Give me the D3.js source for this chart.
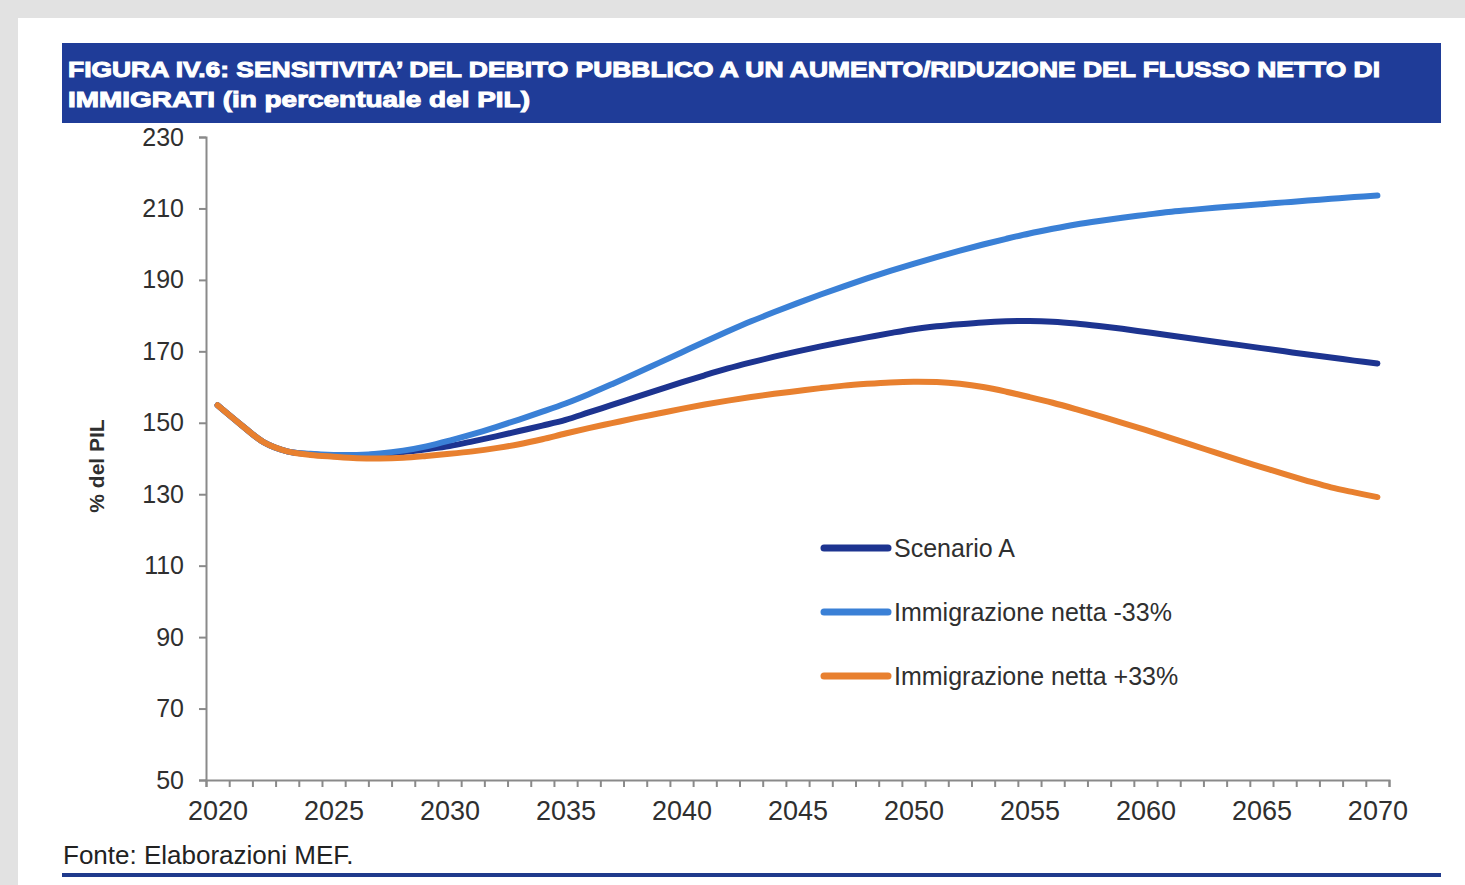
<!DOCTYPE html>
<html>
<head>
<meta charset="utf-8">
<script src="https://cdn.jsdelivr.net/npm/d3@7"></script>
<style>
  html, body { margin: 0; padding: 0; background: #e2e2e2; }
  svg { display: block; }
</style>
</head>
<body>
<svg id="chart" width="1465" height="885"></svg>
<script>
// ---- data ----
const years = d3.range(2020, 2071);
const scenarioA = [
  154.9, 149.5, 144.5, 142.0, 141.2, 140.9, 140.9, 141.2, 141.8, 142.6,
  143.5, 144.8, 146.2, 147.7, 149.2, 150.8, 152.9, 155.0, 157.1, 159.2,
  161.3, 163.3, 165.2, 166.9, 168.5, 170.0, 171.4, 172.7, 173.9, 175.1,
  176.2, 177.0, 177.6, 178.1, 178.4, 178.5, 178.3, 177.8, 177.1, 176.3,
  175.4, 174.5, 173.6, 172.7, 171.8, 170.9, 170.0, 169.1, 168.3, 167.4,
  166.6
];
const immMinus33 = [
  154.9, 149.5, 144.5, 142.0, 141.3, 141.0, 141.0, 141.4, 142.2, 143.4,
  145.0, 146.8, 148.8, 150.9, 153.1, 155.4, 158.0, 160.8, 163.7, 166.7,
  169.7, 172.7, 175.6, 178.4, 181.0, 183.5, 185.9, 188.2, 190.4, 192.5,
  194.5, 196.4, 198.2, 199.9, 201.5, 203.0, 204.3, 205.5, 206.5, 207.4,
  208.2, 209.0, 209.6, 210.2, 210.7, 211.2, 211.7, 212.2, 212.7, 213.2,
  213.6
];
const immPlus33 = [
  154.9, 149.5, 144.5, 142.0, 141.0, 140.5, 140.1, 140.0, 140.2, 140.7,
  141.3, 142.0, 142.9, 144.0, 145.4, 147.0, 148.5, 149.9, 151.3, 152.6,
  153.9, 155.1, 156.2, 157.2, 158.1, 158.9, 159.7, 160.4, 160.9, 161.3,
  161.5, 161.4, 160.9, 160.0, 158.7, 157.2, 155.6, 153.8, 151.9, 150.0,
  148.0, 145.9, 143.8, 141.7, 139.6, 137.6, 135.6, 133.7, 131.9, 130.5,
  129.2
];
const seriesNames = ["Scenario A", "Immigrazione netta -33%", "Immigrazione netta +33%"];
const seriesColors = ["#1d3490", "#3a80d6", "#e8802f"];
const yTicks = [50, 70, 90, 110, 130, 150, 170, 190, 210, 230];
const xLabelYears = [2020, 2025, 2030, 2035, 2040, 2045, 2050, 2055, 2060, 2065, 2070];
const titleLines = [
  "FIGURA IV.6: SENSITIVITA\u2019 DEL DEBITO PUBBLICO A UN AUMENTO/RIDUZIONE DEL FLUSSO NETTO DI",
  "IMMIGRATI (in percentuale del PIL)"
];
const yAxisTitle = "% del PIL";
const sourceText = "Fonte: Elaborazioni MEF.";

// ---- drawing ----
const svg = d3.select("#chart");
const W = 1465, H = 885;
const FONT = "'Liberation Sans', Arial, sans-serif";

// white page panel
svg.append("rect").attr("x", 18).attr("y", 18).attr("width", W - 18).attr("height", H - 18).attr("fill", "#ffffff");

// title band
svg.append("rect").attr("x", 62).attr("y", 43).attr("width", 1379).attr("height", 80).attr("fill", "#1f3c98");
const titleLens = [1312, 462];
titleLines.forEach((t, i) => {
  svg.append("text")
    .attr("x", 68).attr("y", 77 + i * 30)
    .attr("textLength", titleLens[i]).attr("lengthAdjust", "spacingAndGlyphs")
    .attr("font-family", FONT)
    .attr("font-weight", "bold").attr("font-size", 21.5)
    .attr("fill", "#ffffff").attr("stroke", "#ffffff").attr("stroke-width", 1)
    .text(t);
});

// scales
const x = d3.scaleLinear().domain([2019.5, 2070.5]).range([206, 1389]);
const y = d3.scaleLinear().domain([50, 230]).range([780, 137]);

const axisColor = "#8a8a8a";
const textColor = "#2f2f2f";

// y axis
const gy = svg.append("g").attr("transform", "translate(206,0)")
  .call(d3.axisLeft(y).tickValues(yTicks).tickSize(7).tickPadding(15).tickFormat(d3.format("d")));
gy.select(".domain").attr("stroke", axisColor).attr("stroke-width", 2);
gy.selectAll(".tick line").attr("stroke", axisColor).attr("stroke-width", 2);
gy.selectAll(".tick text").attr("fill", textColor).attr("font-size", 25)
  .attr("font-family", FONT);

// x axis: tick marks at year boundaries
const bounds = d3.range(2019.5, 2071, 1);
const gx = svg.append("g").attr("transform", "translate(0,780)")
  .call(d3.axisBottom(x).tickValues(bounds).tickSize(7).tickSizeOuter(7).tickFormat(""));
gx.select(".domain").attr("stroke", axisColor).attr("stroke-width", 2);
gx.selectAll(".tick line").attr("stroke", axisColor).attr("stroke-width", 2);

// x labels at category centres
const gxl = svg.append("g").attr("transform", "translate(0,780)")
  .call(d3.axisBottom(x).tickValues(xLabelYears).tickSize(0).tickPadding(21).tickFormat(d3.format("d")));
gxl.select(".domain").remove();
gxl.selectAll(".tick text").attr("fill", textColor).attr("font-size", 27)
  .attr("font-family", FONT);

// y axis title
svg.append("text")
  .attr("transform", "translate(104,466) rotate(-90)")
  .attr("text-anchor", "middle")
  .attr("font-family", FONT)
  .attr("font-weight", "bold").attr("font-size", 21).attr("fill", textColor)
  .text(yAxisTitle);

// lines
const allSeries = [scenarioA, immMinus33, immPlus33];
const line = d3.line().x((d, i) => x(years[i])).y(d => y(d)).curve(d3.curveCatmullRom.alpha(0.5));
allSeries.forEach((s, k) => {
  svg.append("path").datum(s)
    .attr("d", line)
    .attr("fill", "none")
    .attr("stroke", seriesColors[k])
    .attr("stroke-width", 6)
    .attr("stroke-linecap", "round")
    .attr("stroke-linejoin", "round");
});

// legend
const legend = svg.append("g");
seriesNames.forEach((n, k) => {
  const ly = 548 + k * 64;
  legend.append("line").attr("x1", 824).attr("x2", 888).attr("y1", ly).attr("y2", ly)
    .attr("stroke", seriesColors[k]).attr("stroke-width", 7).attr("stroke-linecap", "round");
  legend.append("text").attr("x", 894).attr("y", ly + 9)
    .attr("font-family", FONT)
    .attr("font-size", 25).attr("fill", textColor)
    .text(n);
});

// source
svg.append("text").attr("x", 63).attr("y", 864)
  .attr("font-family", FONT)
  .attr("font-size", 26).attr("fill", "#222222")
  .text(sourceText);

// bottom rule
svg.append("rect").attr("x", 62).attr("y", 873).attr("width", 1379).attr("height", 4).attr("fill", "#1f3a8c");
</script>
</body>
</html>
